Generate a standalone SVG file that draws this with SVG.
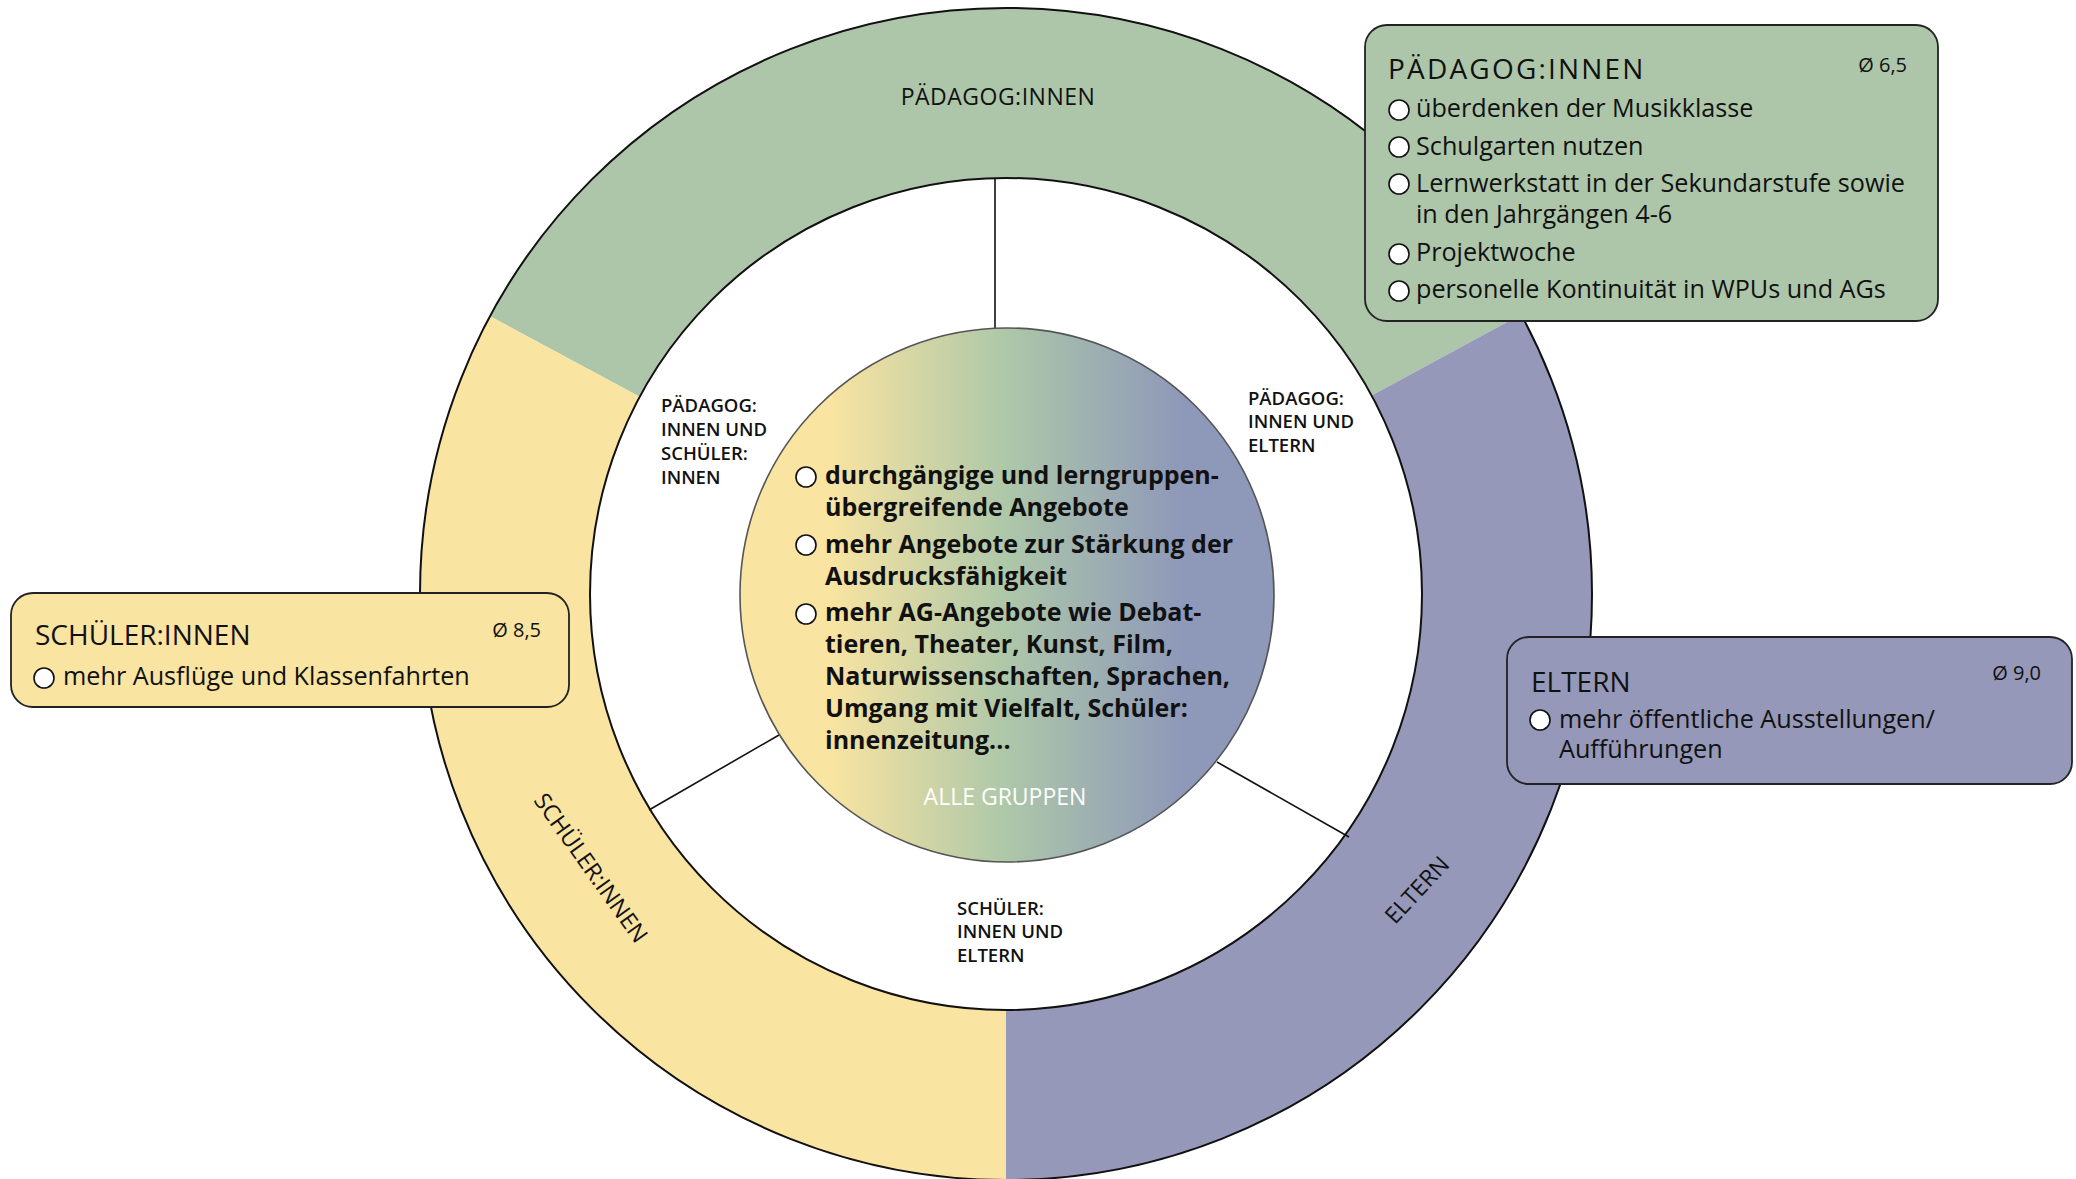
<svg xmlns="http://www.w3.org/2000/svg" width="2076" height="1179" viewBox="0 0 2076 1179">
  <defs>
    <linearGradient id="allGroups" x1="0" y1="0" x2="1" y2="0">
      <stop offset="0.17" stop-color="#f9e4a1"/>
      <stop offset="0.5" stop-color="#adc7a9"/>
      <stop offset="0.83" stop-color="#8e98b9"/>
    </linearGradient>
    <style>
      text { font-family: "Open Sans", "Liberation Sans", sans-serif; fill: #111; }
      .ringlbl { font-size: 23px; font-weight: 500; }
      .midlbl { font-size: 18.5px; font-weight: 600; }
      .ttl { font-size: 28px; font-weight: 500; }
      .wide { letter-spacing: 2.2px; }
      .avg { font-size: 20px; font-weight: 400; text-anchor: end; }
      .item { font-size: 25.2px; font-weight: 400; }
      .core { font-size: 25px; font-weight: 700; }
      .bullet { fill: #fff; stroke: #111; stroke-width: 1.6; }
      .box { stroke: #222; stroke-width: 1.8; }
      .edge { fill: none; stroke: #111; stroke-width: 1.6; }
    </style>
  </defs>

  <rect width="2076" height="1179" fill="#fff"/>

  <!-- outer ring: three group sectors -->
  <g id="ring-paedagog">
    <path d="M 490.0,316.2 A 586 586 0 0 1 1521.0,314.4 L 1371.6,395.5 A 416 416 0 0 0 639.7,396.8 Z" fill="#adc6a9"/>
    <text class="ringlbl" x="998" y="105" text-anchor="middle" style="letter-spacing:0.5px">PÄDAGOG:INNEN</text>
  </g>
  <g id="ring-eltern">
    <path d="M 1521.0,314.4 A 586 586 0 0 1 1006,1180 L 1006,1010 A 416 416 0 0 0 1371.6,395.5 Z" fill="#9598b9"/>
    <text class="ringlbl" text-anchor="middle" transform="translate(1417,890) rotate(-47)" y="8">ELTERN</text>
  </g>
  <g id="ring-schueler">
    <path d="M 1006,1180 A 586 586 0 0 1 490.0,316.2 L 639.7,396.8 A 416 416 0 0 0 1006,1010 Z" fill="#f9e4a2"/>
    <text class="ringlbl" text-anchor="middle" transform="translate(591,868) rotate(54.5)" y="8">SCHÜLER:INNEN</text>
  </g>
  <circle cx="1006" cy="594" r="586" fill="none" stroke="#111" stroke-width="2"/>
  <circle cx="1006" cy="594" r="416" fill="#fff" stroke="#111" stroke-width="2"/>

  <!-- dividers between the overlap zones -->
  <g id="connectors">
    <line class="edge" x1="995" y1="178" x2="995" y2="329"/>
    <line class="edge" x1="649" y1="810" x2="779" y2="735"/>
    <line class="edge" x1="1217" y1="762" x2="1349" y2="837"/>
  </g>

  <!-- overlap zone labels -->
  <g id="zone-paed-schueler">
    <text class="midlbl" x="661" y="412">PÄDAGOG:</text>
    <text class="midlbl" x="661" y="436">INNEN UND</text>
    <text class="midlbl" x="661" y="460">SCHÜLER:</text>
    <text class="midlbl" x="661" y="484">INNEN</text>
  </g>
  <g id="zone-paed-eltern">
    <text class="midlbl" x="1248" y="405">PÄDAGOG:</text>
    <text class="midlbl" x="1248" y="428">INNEN UND</text>
    <text class="midlbl" x="1248" y="452">ELTERN</text>
  </g>
  <g id="zone-schueler-eltern">
    <text class="midlbl" x="957" y="915">SCHÜLER:</text>
    <text class="midlbl" x="957" y="938">INNEN UND</text>
    <text class="midlbl" x="957" y="962">ELTERN</text>
  </g>

  <!-- centre: all groups -->
  <g id="center-alle">
    <circle cx="1007" cy="595" r="267" fill="url(#allGroups)" stroke="#555" stroke-width="1.6"/>
    <circle class="bullet" cx="806" cy="477" r="10"/>
    <circle class="bullet" cx="806" cy="545" r="10"/>
    <circle class="bullet" cx="806" cy="614" r="10"/>
    <text class="core" x="825" y="484">durchgängige und lerngruppen-</text>
    <text class="core" x="825" y="516">übergreifende Angebote</text>
    <text class="core" x="825" y="553">mehr Angebote zur Stärkung der</text>
    <text class="core" x="825" y="585">Ausdrucksfähigkeit</text>
    <text class="core" x="825" y="621">mehr AG-Angebote wie Debat-</text>
    <text class="core" x="825" y="653">tieren, Theater, Kunst, Film,</text>
    <text class="core" x="825" y="685">Naturwissenschaften, Sprachen,</text>
    <text class="core" x="825" y="717">Umgang mit Vielfalt, Schüler:</text>
    <text class="core" x="825" y="749">innenzeitung...</text>
    <text x="1005" y="805" text-anchor="middle" style="font-size:23px;font-weight:500;fill:#fff">ALLE GRUPPEN</text>
  </g>

  <!-- callout: Pädagog:innen -->
  <g id="box-paedagog">
    <rect class="box" x="1365" y="25" width="573" height="296" rx="22" fill="#adc6a9"/>
    <text class="ttl wide" x="1388" y="79">PÄDAGOG:INNEN</text>
    <text class="avg" x="1907" y="72">Ø 6,5</text>
    <circle class="bullet" cx="1399" cy="110" r="10"/>
    <text class="item" x="1416" y="117">überdenken der Musikklasse</text>
    <circle class="bullet" cx="1399" cy="147" r="10"/>
    <text class="item" x="1416" y="155">Schulgarten nutzen</text>
    <circle class="bullet" cx="1399" cy="184" r="10"/>
    <text class="item" x="1416" y="192">Lernwerkstatt in der Sekundarstufe sowie</text>
    <text class="item" x="1416" y="223">in den Jahrgängen 4-6</text>
    <circle class="bullet" cx="1399" cy="254" r="10"/>
    <text class="item" x="1416" y="261">Projektwoche</text>
    <circle class="bullet" cx="1399" cy="291" r="10"/>
    <text class="item" x="1416" y="298">personelle Kontinuität in WPUs und AGs</text>
  </g>

  <!-- callout: Schüler:innen -->
  <g id="box-schueler">
    <rect class="box" x="11" y="593" width="558" height="114" rx="22" fill="#f9e4a2"/>
    <text class="ttl" x="35" y="645">SCHÜLER:INNEN</text>
    <text class="avg" x="541" y="637">Ø 8,5</text>
    <circle class="bullet" cx="44" cy="678" r="10"/>
    <text class="item" x="63" y="685">mehr Ausflüge und Klassenfahrten</text>
  </g>

  <!-- callout: Eltern -->
  <g id="box-eltern">
    <rect class="box" x="1507" y="637" width="565" height="147" rx="22" fill="#9598b9"/>
    <text class="ttl" x="1531" y="692">ELTERN</text>
    <text class="avg" x="2041" y="680">Ø 9,0</text>
    <circle class="bullet" cx="1540" cy="720" r="10"/>
    <text class="item" x="1559" y="728">mehr öffentliche Ausstellungen/</text>
    <text class="item" x="1559" y="758">Aufführungen</text>
  </g>
</svg>
